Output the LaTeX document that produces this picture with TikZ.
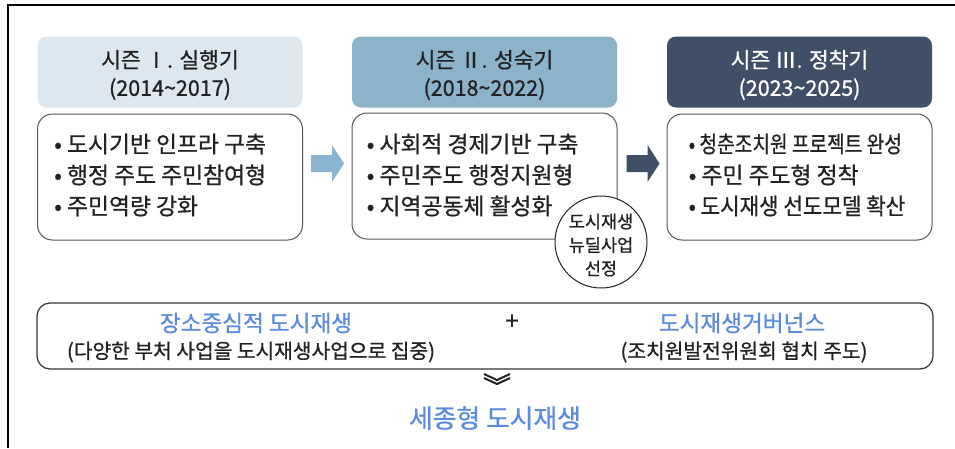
\documentclass[tikz,border=0pt]{standalone}
\usepackage{fontspec}
\setmainfont{Noto Sans CJK KR}[FakeBold=0.8]
\usetikzlibrary{calc}
\definecolor{hdrA}{HTML}{DDE7EF}
\definecolor{hdrB}{HTML}{8DB3CB}
\definecolor{hdrC}{HTML}{3E4F67}
\definecolor{arrA}{HTML}{8BB4D3}
\definecolor{bluetxt}{HTML}{5B8BDE}
\definecolor{txt}{HTML}{222222}
\definecolor{boxline}{HTML}{555555}
\tikzset{
  hdr/.style={rounded corners=9pt, minimum width=265pt, minimum height=71pt, inner sep=0pt, text=txt},
  hdrtxt/.style={align=center, inner sep=0pt, font=\fontsize{21.5}{28}\selectfont},
  bodybox/.style={draw=boxline, line width=1pt, rounded corners=15pt, minimum width=265pt, minimum height=126pt, inner sep=0pt, fill=white},
  bodytxt/.style={anchor=west, align=left, inner sep=0pt, text=txt, font=\fontsize{22.8}{31}\selectfont},
}
\begin{document}
\begin{tikzpicture}[x=1pt,y=-1pt]
\useasboundingbox (0,0) rectangle (955,448);
\fill[white] (0,0) rectangle (955,448);
% outer frame (top and left)
\draw[line width=1.5pt,black] (8,448) -- (8,5) -- (955,5);

% headers
\node[hdr, fill=hdrA] (h1) at (170,72) {};
\node[hdr, fill=hdrB] (h2) at (484.5,72) {};
\node[hdr, fill=hdrC] (h3) at (799.5,72) {};
\node[hdrtxt, text=txt] (ht1) at ($(h1)+(0,3)$) {시즌 Ⅰ. 실행기\\(2014\textasciitilde2017)};
\node[hdrtxt, text=txt] (ht2) at ($(h2)+(0,3)$) {시즌 Ⅱ. 성숙기\\(2018\textasciitilde2022)};
\node[hdrtxt, text=white] (ht3) at ($(h3)+(0,3)$) {시즌 Ⅲ. 정착기\\(2023\textasciitilde2025)};

% body boxes
\node[bodybox] (b1) at (170,177) {};
\node[bodybox] (b2) at (484.5,176) {};
\node[bodybox] (b3) at (799.5,177) {};

\node[bodytxt] (t1) at ($(b1.west)+(17,-2)$) {• 도시기반 인프라 구축\\• 행정 주도 주민참여형\\• 주민역량 강화};
\node[bodytxt] (t2) at ($(b2.west)+(15,-1)$) {• 사회적 경제기반 구축\\• 주민주도 행정지원형\\• 지역공동체 활성화};
\node[bodytxt] (t3) at ($(b3.west)+(22,-2)$) {\scalebox{0.84}[1]{• 청춘조치원 프로젝트 완성}\\• 주민 주도형 정착\\\scalebox{0.93}[1]{• 도시재생 선도모델 확산}};

% circle
\node[circle, draw=txt, line width=1pt, fill=white, minimum size=92pt, inner sep=0pt] (c) at (601,242) {};
\node[align=center, inner sep=0pt, text=txt, font=\fontsize{17.5}{23.5}\selectfont] (ct) at (601,245) {도시재생\\뉴딜사업\\선정};

% block arrows
\fill[arrA] ($(b1.east)+(8,-22)$) -- ++(21,0) -- ++(0,-10) -- ++(12,18.5) -- ++(-12,18.5) -- ++(0,-10) -- ++(-21,0) -- cycle;
\fill[hdrC] ($(b2.east)+(9,-21)$) -- ++(21,0) -- ++(0,-10) -- ++(12,18.5) -- ++(-12,18.5) -- ++(0,-10) -- ++(-21,0) -- cycle;

% bottom box
\node[draw=black!80, line width=1.2pt, rounded corners=13pt, minimum width=896pt, minimum height=66pt, inner sep=0pt] (bb) at (485,336) {};
\node[text=bluetxt, font=\fontsize{22.6}{24}\selectfont, inner sep=0pt] (l1) at (256,323) {장소중심적 도시재생};
\node[text=txt, font=\fontsize{20.3}{22}\selectfont, inner sep=0pt] (l2) at (251,352) {(다양한 부처 사업을 도시재생사업으로 집중)};
\node[text=txt, font=\fontsize{24}{24}\selectfont, inner sep=0pt] (plus) at (512,322) {+};
\node[text=bluetxt, font=\fontsize{22.6}{24}\selectfont, inner sep=0pt] (r1) at (742,323) {도시재생거버넌스};
\node[text=txt, font=\fontsize{20.3}{22}\selectfont, inner sep=0pt] (r2) at (744,352) {(조치원발전위원회 협치 주도)};

% chevron
\coordinate (chev) at (497,379);
\draw[line width=2pt, txt] ($(chev)+(-13,-5)$) -- ($(chev)+(0,1)$) -- ($(chev)+(13,-5)$);
\draw[line width=2pt, txt] ($(chev)+(-13,-1)$) -- ($(chev)+(0,5)$) -- ($(chev)+(13,-1)$);

\node[text=bluetxt, font=\fontsize{25.8}{28}\selectfont, inner sep=0pt] (fin) at (495,418) {세종형 도시재생};
\end{tikzpicture}
\end{document}
